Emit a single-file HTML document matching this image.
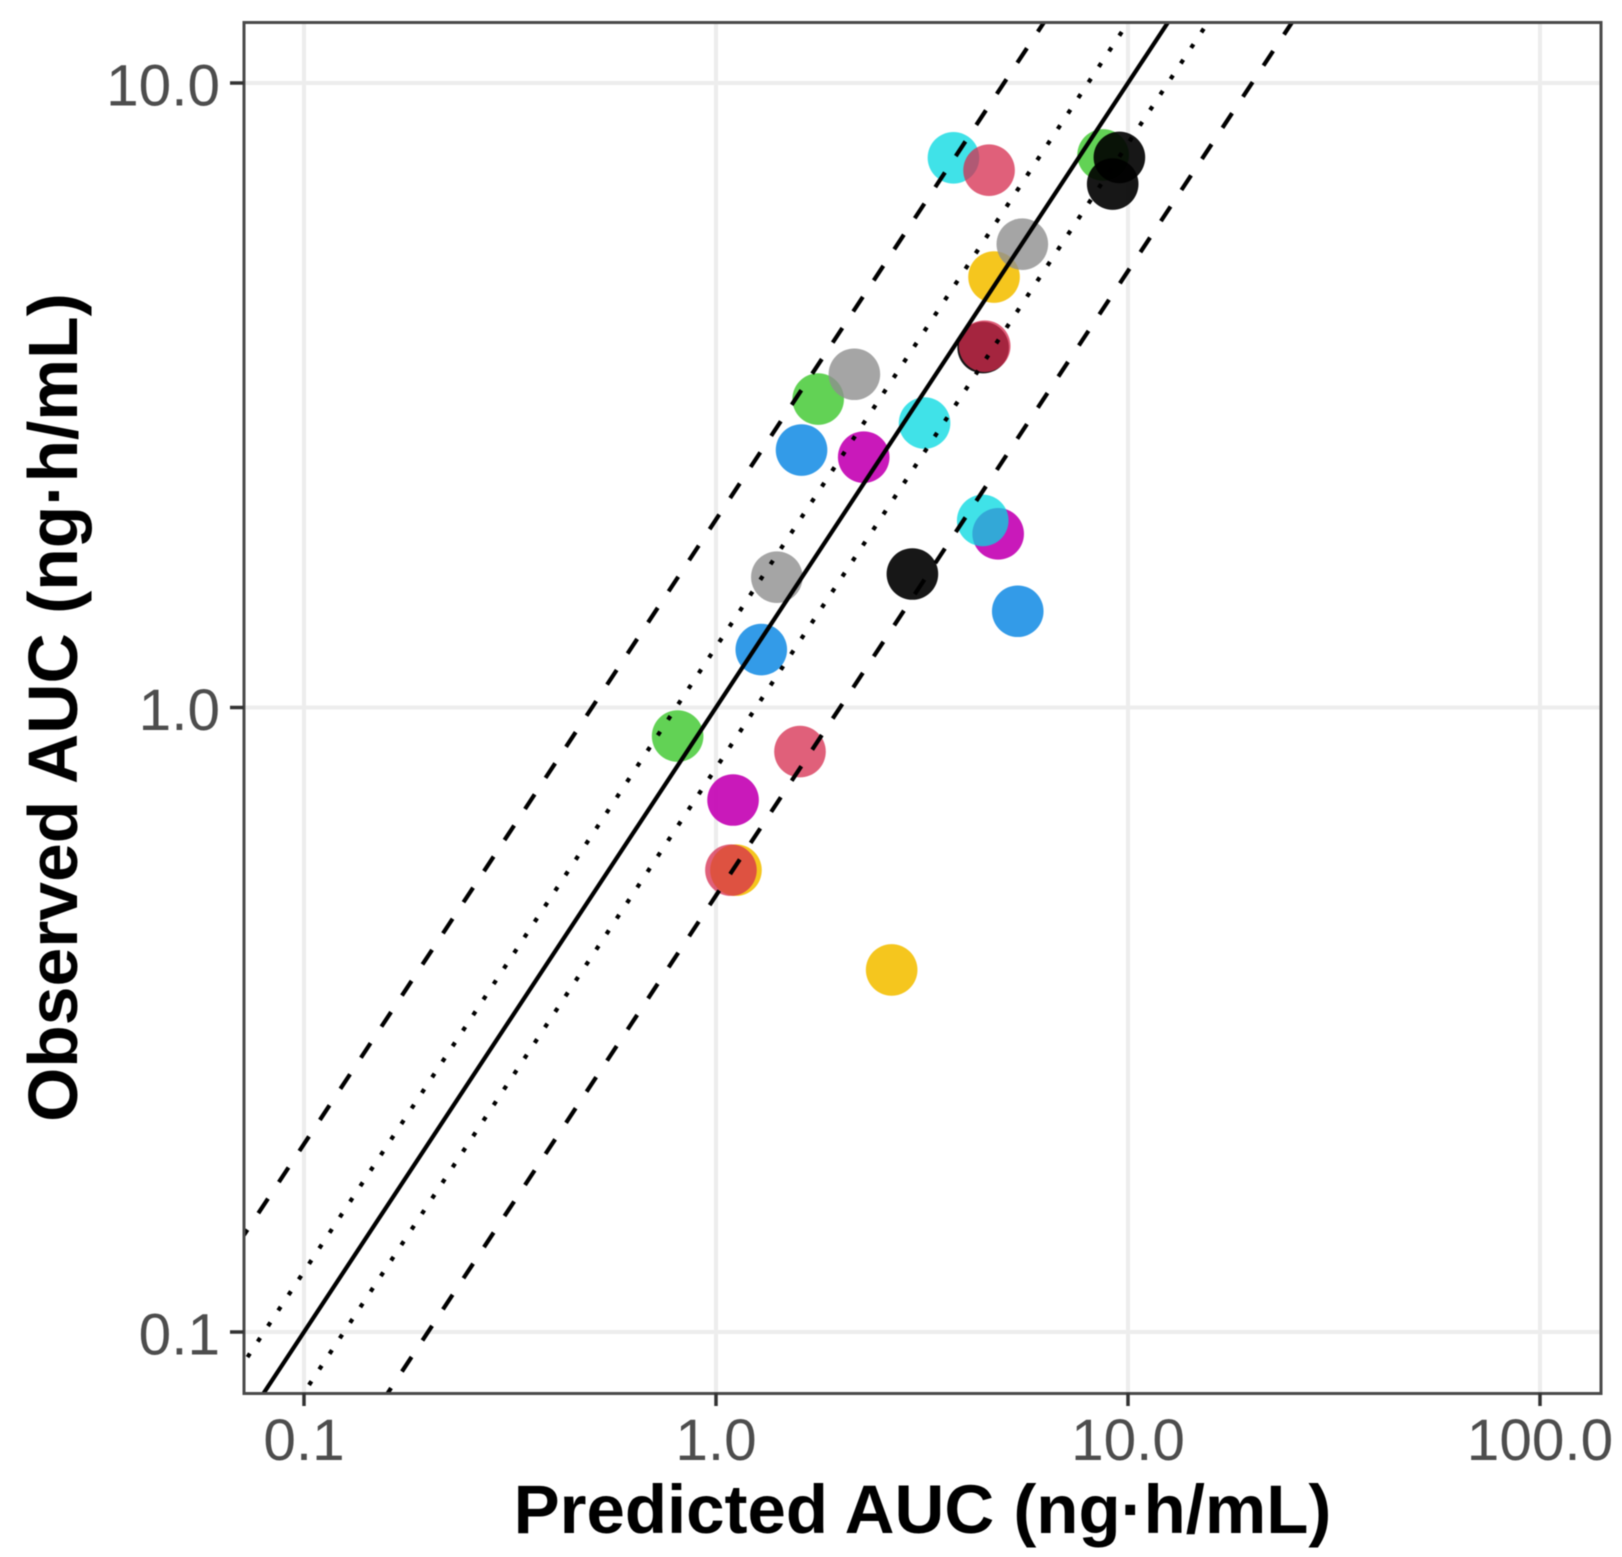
<!DOCTYPE html>
<html lang="en">
<head>
<meta charset="utf-8">
<title>Observed vs Predicted AUC</title>
<style>
html,body{margin:0;padding:0;background:#fff;}
body{width:1622px;height:1557px;overflow:hidden;}
svg{display:block;filter:blur(0.5px);}
text{font-family:"Liberation Sans",Arial,sans-serif;}
.tick{font-size:58.5px;fill:#4d4d4d;}
.title{font-weight:bold;fill:#000;text-anchor:middle;}
</style>
</head>
<body>
<svg id="chart" xmlns="http://www.w3.org/2000/svg" width="1622" height="1557" viewBox="0 0 1622 1557">
  <defs>
    <clipPath id="panel-clip"><rect x="244" y="22.5" width="1357" height="1371"></rect></clipPath>
  </defs>
  <rect x="0" y="0" width="1622" height="1557" fill="#fff"></rect>
  <g id="grid"></g>
  <g id="points" clip-path="url(#panel-clip)"></g>
  <g id="refs" clip-path="url(#panel-clip)"></g>
  <rect x="244" y="22.5" width="1357" height="1371" fill="none" stroke="#4a4a4a" stroke-width="3"></rect>
  <g id="axes"></g>
  <text class="title" style="font-size:69px" x="922.5" y="1533">Predicted AUC (ng·h/mL)</text>
  <text class="title" style="font-size:69.6px" transform="translate(77 707.5) rotate(-90)" x="0" y="0">Observed AUC (ng·h/mL)</text>
</svg>
<script>
const xTicks = [0.1, 1, 10, 100];
const yTicks = [0.1, 1, 10];
const xTickLabels = ['0.1', '1.0', '10.0', '100.0'];
const yTickLabels = ['0.1', '1.0', '10.0'];

const lineRatios = [2, 1.25, 1, 0.8, 0.5];
const lineKinds = ['dashed', 'dotted', 'solid', 'dotted', 'dashed'];

const predicted = [4.45, 3.77, 4.60, 8.70, 9.53, 9.18, 4.73, 5.54, 4.49, 1.77, 2.167, 3.208, 1.613, 2.283, 4.84, 4.44, 2.997, 1.405, 5.40, 1.288, 0.807, 1.599, 1.10, 1.118, 1.087, 2.669];
const observed = [3.77, 7.59, 7.25, 7.67, 7.60, 6.89, 4.89, 5.52, 3.79, 3.118, 3.417, 2.854, 2.584, 2.517, 1.897, 1.993, 1.636, 1.617, 1.426, 1.238, 0.900, 0.850, 0.711, 0.549, 0.549, 0.380];
const groups = ['black', 'cyan', 'pink', 'green', 'black', 'black', 'yellow', 'gray', 'pink', 'green', 'gray', 'cyan', 'blue', 'magenta', 'magenta', 'cyan', 'black', 'gray', 'blue', 'blue', 'green', 'pink', 'magenta', 'yellow', 'pink', 'yellow'];
const groupColors = {
  black: 'rgba(0,0,0,0.91)',
  pink: 'rgba(214,43,78,0.75)',
  green: 'rgba(59,199,42,0.8)',
  blue: 'rgba(0,130,226,0.8)',
  cyan: 'rgba(0,216,224,0.75)',
  magenta: 'rgba(195,0,178,0.9)',
  yellow: 'rgba(244,192,5,0.9)',
  gray: 'rgba(142,142,142,0.8)'
};

const NS = 'http://www.w3.org/2000/svg';
const panel = { left: 244, right: 1601, top: 22.5, bottom: 1393 };
function xScale(v) { return 716 + 412 * Math.log10(v); }
function yScale(v) { return 707.5 - 624.5 * Math.log10(v); }
function xInvert(px) { return Math.pow(10, (px - 716) / 412); }
function make(tag, attrs, parent) {
  const el = document.createElementNS(NS, tag);
  for (const k in attrs) el.setAttribute(k, attrs[k]);
  parent.appendChild(el);
  return el;
}

const grid = document.getElementById('grid');
const axes = document.getElementById('axes');
const pts = document.getElementById('points');
const refs = document.getElementById('refs');

xTicks.forEach(function (t, i) {
  const x = xScale(t);
  const g = make('line', { x1: x, x2: x, y1: panel.top, y2: panel.bottom, stroke: '#ededed', 'stroke-width': 4 }, grid);
  
  
  const m = make('line', { x1: x, x2: x, y1: panel.bottom, y2: panel.bottom + 13, stroke: '#333', 'stroke-width': 3.5 }, axes);
  
  
  const l = make('text', { class: 'tick', x: x, y: 1460, 'text-anchor': 'middle' }, axes);
  
  
  l.textContent = xTickLabels[i];
});

yTicks.forEach(function (t, i) {
  const y = yScale(t);
  const g = make('line', { x1: panel.left, x2: panel.right, y1: y, y2: y, stroke: '#ededed', 'stroke-width': 4 }, grid);
  
  
  const m = make('line', { x1: panel.left - 14, x2: panel.left, y1: y, y2: y, stroke: '#333', 'stroke-width': 3.5 }, axes);
  
  
  const l = make('text', { class: 'tick', x: 220, y: y + 22.5, 'text-anchor': 'end' }, axes);
  
  
  l.textContent = yTickLabels[i];
});

predicted.forEach(function (p, i) {
  const c = make('circle', { cx: xScale(p), cy: yScale(observed[i]), r: 25.8, fill: groupColors[groups[i]] }, pts);
  
  
});

lineRatios.forEach(function (ratio, i) {
  const x0 = xInvert(panel.left);
  const x1 = xInvert(panel.right);
  const kind = lineKinds[i];
  const attrs = {
    x1: xScale(x0), y1: yScale(x0 * ratio),
    x2: xScale(x1), y2: yScale(x1 * ratio),
    stroke: '#000', 'stroke-width': 4.2, fill: 'none'
  };
  if (kind === 'dashed') { attrs['stroke-dasharray'] = '17.5 19.75'; attrs['stroke-dashoffset'] = '11.2'; }
  if (kind === 'dotted') { attrs['stroke-dasharray'] = '4.4 14.225'; attrs['stroke-dashoffset'] = '12.3'; }
  const l = make('line', attrs, refs);
  
  
});
</script>
</body>
</html>
